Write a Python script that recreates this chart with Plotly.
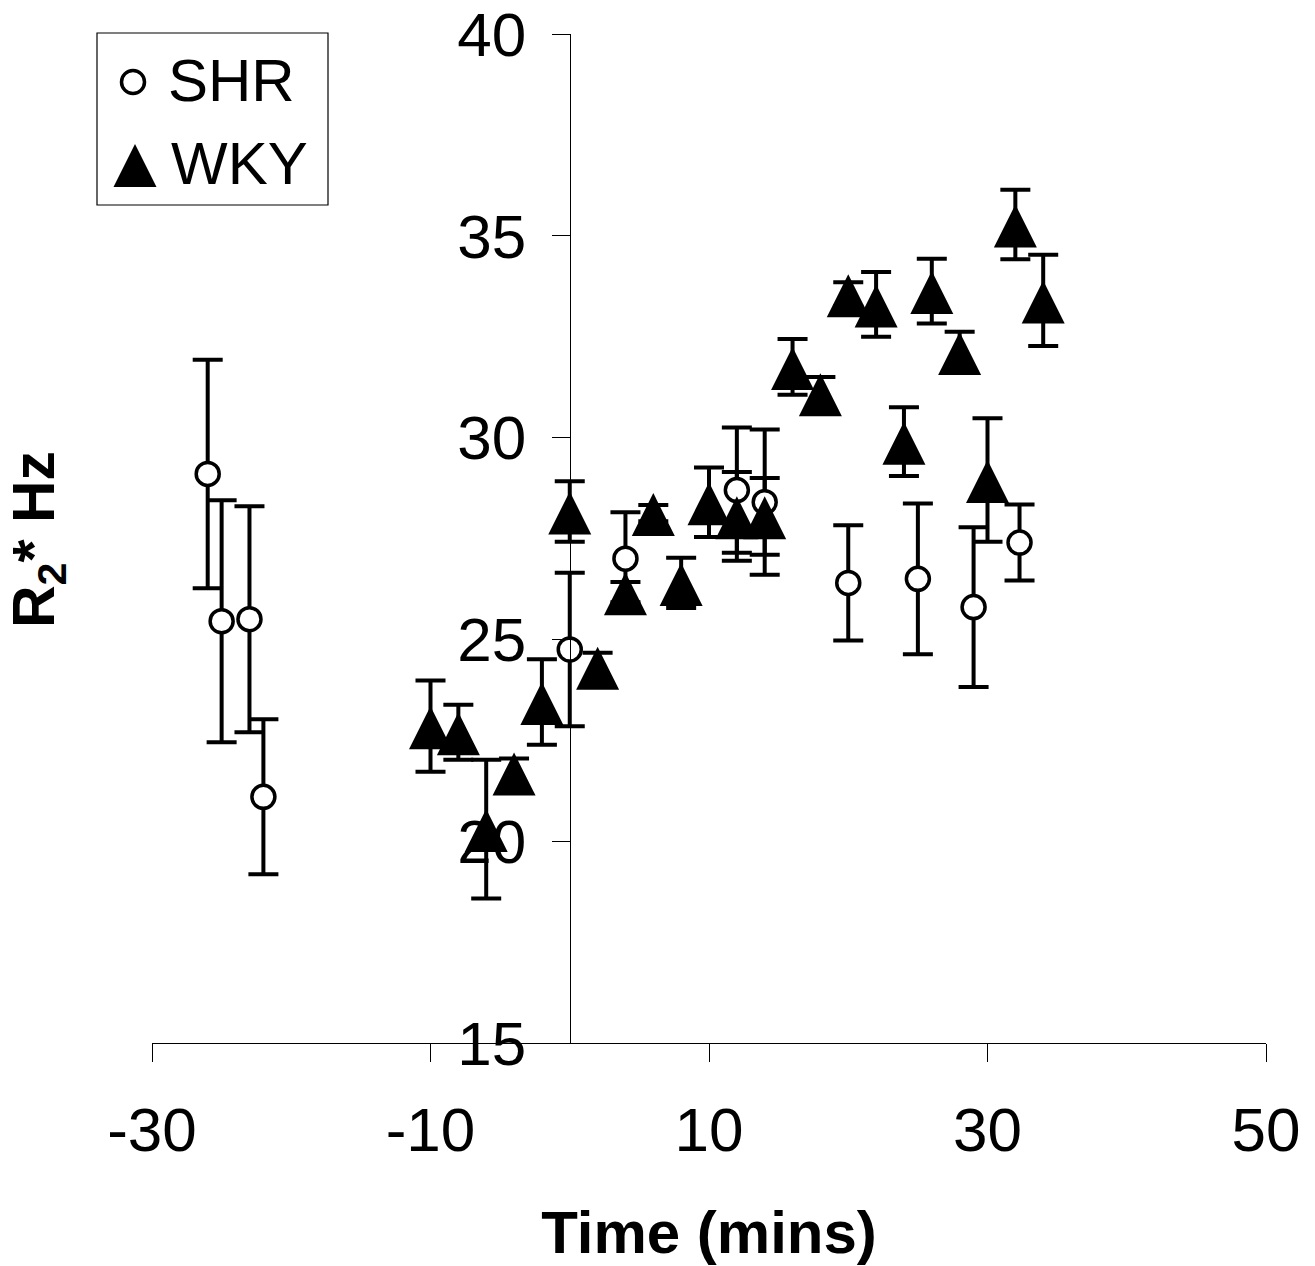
import plotly.graph_objects as go

# ---------------- data ----------------
shr_time = [-26, -25, -23, -22, 0, 4, 12, 14, 20, 25, 29, 32.3]
shr_r2 = [29.1, 25.45, 25.5, 21.1, 24.75, 27.0, 28.7, 28.4, 26.4, 26.5, 25.8, 27.4]
shr_err = [2.83, 3.0, 2.8, 1.92, 1.9, 1.15, 1.55, 1.8, 1.43, 1.87, 1.98, 0.94]

wky_time = [-10, -8, -6, -4, -2, 0, 2, 4, 6, 8, 10, 12, 14, 16, 18, 20, 22,
            24, 26, 28, 30, 32, 34]
wky_r2 = [22.85, 22.7, 20.3, 21.7, 23.45, 28.17, 24.32, 26.17, 28.13, 26.4,
          28.4, 28.05, 28.05, 31.75, 31.1, 33.55, 33.3, 29.9, 33.63, 32.12,
          28.95, 35.28, 33.4]
wky_err = [1.13, 0.68, 1.72, 0.35, 1.06, 0.75, 0.35, 0.25, 0.2, 0.62, 0.86,
           1.1, 0.95, 0.69, 0.4, 0.3, 0.8, 0.85, 0.8, 0.5, 1.53, 0.86, 1.13]

series_names = ["SHR", "WKY"]
x_ticks = [-30, -10, 10, 30, 50]
y_ticks = [15, 20, 25, 30, 35, 40]
x_title = "Time (mins)"
y_title = "R<sub>2</sub>* Hz"

# ---------------- styles ----------------
FONT = "Liberation Sans, Arial, Helvetica, sans-serif"
W, H = 1315, 1266
ML, MR, MT, MB = 152, 49, 34, 223
X_RANGE = [-30, 50]
Y_RANGE = [15, 40]

circ = dict(symbol="circle", size=23, color="white",
            line=dict(color="black", width=3.5))
tri = dict(symbol="arrow-down", angle=180, standoff=20, size=43,
           color="black", line=dict(width=0))
err_style = dict(type="data", symmetric=True, thickness=4, width=15,
                 color="black")
hidden = dict(size=2, opacity=0)


def px_x(px):
    return (px - ML) / (W - ML - MR)


def px_y(py):
    return (H - MB - py) / (H - MB - MT)


fig = go.Figure()

# error bars first (both series), then markers on top
fig.add_trace(go.Scatter(x=shr_time, y=shr_r2, mode="markers", marker=hidden,
                         error_y=dict(array=shr_err, **err_style),
                         showlegend=False, hoverinfo="skip"))
fig.add_trace(go.Scatter(x=wky_time, y=wky_r2, mode="markers", marker=hidden,
                         error_y=dict(array=wky_err, **err_style),
                         showlegend=False, hoverinfo="skip"))
fig.add_trace(go.Scatter(x=shr_time, y=shr_r2, mode="markers", marker=circ,
                         name=series_names[0], showlegend=False,
                         cliponaxis=False))
fig.add_trace(go.Scatter(x=wky_time, y=wky_r2, mode="markers", marker=tri,
                         name=series_names[1], showlegend=False,
                         cliponaxis=False))

# ---------------- hand-drawn legend (box + key glyphs as shapes) -------------
fig.add_shape(type="rect", xref="paper", yref="paper",
              x0=px_x(97), x1=px_x(328), y0=px_y(205), y1=px_y(33),
              line=dict(color="black", width=1.2), fillcolor="rgba(0,0,0,0)")

# open circle key (centre 133,82 px; diameter 23 px)
fig.add_shape(type="circle", xref="paper", yref="paper",
              x0=px_x(121.5), x1=px_x(144.5), y0=px_y(93.5), y1=px_y(70.5),
              line=dict(color="black", width=3.5), fillcolor="white")

# filled triangle key (apex 135,144 px; base y 187 px)
tri_pts = [(135, 144), (113.5, 187), (156.5, 187)]
tri_path = "M {:.5f},{:.5f} L {:.5f},{:.5f} L {:.5f},{:.5f} Z".format(
    px_x(tri_pts[0][0]), px_y(tri_pts[0][1]),
    px_x(tri_pts[1][0]), px_y(tri_pts[1][1]),
    px_x(tri_pts[2][0]), px_y(tri_pts[2][1]))
fig.add_shape(type="path", xref="paper", yref="paper", path=tri_path,
              line=dict(width=0), fillcolor="black")

fig.add_annotation(text=series_names[0], xref="paper", yref="paper",
                   x=px_x(166), y=px_y(81), xanchor="left", yanchor="middle",
                   showarrow=False, font=dict(family=FONT, size=60, color="black"))
fig.add_annotation(text=series_names[1], xref="paper", yref="paper",
                   x=px_x(169), y=px_y(163), xanchor="left", yanchor="middle",
                   showarrow=False, font=dict(family=FONT, size=60, color="black"))

# y-axis title (axis itself sits at x = 0, title stays at the far left)
fig.add_annotation(text="<b>" + y_title + "</b>", xref="paper", yref="paper",
                   x=px_x(38), y=px_y(540), xanchor="center", yanchor="middle",
                   textangle=-90, showarrow=False,
                   font=dict(family=FONT, size=59, color="black"))

axis_common = dict(showgrid=False, zeroline=False, showline=True,
                   linecolor="black", linewidth=1.2, ticks="outside",
                   ticklen=18, tickwidth=1.2, tickcolor="black",
                   ticklabeloverflow="allow", automargin=False,
                   tickfont=dict(family=FONT, size=62, color="black"))

fig.update_layout(
    width=W, height=H,
    margin=dict(l=ML, r=MR, t=MT, b=MB, pad=0, autoexpand=False),
    paper_bgcolor="white", plot_bgcolor="white",
    font=dict(family=FONT, color="black"),
    xaxis=dict(range=X_RANGE, tickmode="array", tickvals=x_ticks,
               ticktext=[str(v) for v in x_ticks], anchor="y",
               ticklabelstandoff=14,
               title=dict(text="<b>" + x_title + "</b>", standoff=50,
                          font=dict(family=FONT, size=60, color="black")),
               **axis_common),
    yaxis=dict(range=Y_RANGE, tickmode="array",
               tickvals=y_ticks, ticktext=[str(v) for v in y_ticks],
               anchor="free", position=0.375, ticklabelstandoff=13,
               **axis_common),
    showlegend=False,
)

fig.write_html("out.html", config={"displayModeBar": False},
               post_script="document.body.style.margin='0';"
                           "document.body.style.overflow='hidden';")
